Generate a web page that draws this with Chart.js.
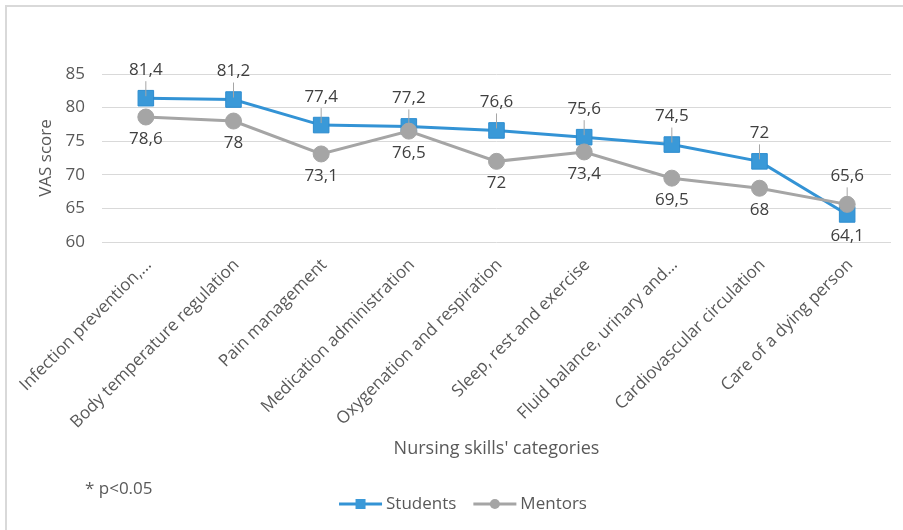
<!DOCTYPE html>
<html>
<head>
<meta charset="utf-8">
<script src="https://cdn.jsdelivr.net/npm/chart.js@4.4.1/dist/chart.umd.min.js"></script>
<style>
  html, body { margin: 0; padding: 0; background: #fff; }
  #wrap { width: 903px; height: 530px; }
</style>
</head>
<body>
<div id="wrap"><canvas id="vasChart" width="903" height="530"></canvas></div>
<script>
const categories = [
    'Infection prevention,...',
    'Body temperature regulation',
    'Pain management',
    'Medication administration',
    'Oxygenation and respiration',
    'Sleep, rest and exercise',
    'Fluid balance, urinary and...',
    'Cardiovascular circulation',
    'Care of a dying person'
];
const studentScores = [81.4, 81.2, 77.4, 77.2, 76.6, 75.6, 74.5, 72, 64.1];
const mentorScores = [78.6, 78, 73.1, 76.5, 72, 73.4, 69.5, 68, 65.6];

const yMin = 60;
const yMax = 85;
const yStep = 5;

// which side of the marker each value label sits on
const studentLabelSide = ['up', 'up', 'up', 'up', 'up', 'up', 'up', 'up', 'down'];
const mentorLabelSide = ['down', 'down', 'down', 'down', 'down', 'down', 'down', 'down', 'up'];

const FONT = '"Open Sans", "DejaVu Sans", sans-serif';
const BLUE = '#3393d5';
const GREY = '#a5a5a5';

const fmt = v => String(v).replace('.', ',');

const frame = {
    id: 'frame',
    beforeDraw(chart) {
        const ctx = chart.ctx;
        ctx.save();
        ctx.fillStyle = '#fff';
        ctx.fillRect(0, 0, chart.width, chart.height);
        ctx.fillStyle = '#d9d9d9';
        ctx.fillRect(5, 5, chart.width - 5, 2);
        ctx.fillRect(5, 5, 2, chart.height - 5);
        ctx.restore();
    }
};

const valueLabels = {
    id: 'valueLabels',
    afterDatasetsDraw(chart) {
        const ctx = chart.ctx;
        ctx.save();
        ctx.font = '17px ' + FONT;
        ctx.textAlign = 'center';
        ctx.textBaseline = 'middle';
        chart.data.datasets.forEach((ds, i) => {
            const meta = chart.getDatasetMeta(i);
            meta.data.forEach((pt, j) => {
                const side = ds.labelSide[j];
                if (side === 'up') {
                    ctx.strokeStyle = '#a6a6a6';
                    ctx.lineWidth = 1;
                    ctx.beginPath();
                    ctx.moveTo(pt.x, pt.y - 17);
                    ctx.lineTo(pt.x, pt.y - 2);
                    ctx.stroke();
                    ctx.fillStyle = '#404040';
                    ctx.fillText(fmt(ds.data[j]), pt.x, pt.y - 28);
                } else {
                    ctx.fillStyle = '#404040';
                    ctx.fillText(fmt(ds.data[j]), pt.x, pt.y + 22);
                }
            });
        });
        ctx.restore();
    }
};

const footer = {
    id: 'footer',
    afterDraw(chart) {
        const ctx = chart.ctx;
        ctx.save();
        ctx.font = '17px ' + FONT;
        ctx.fillStyle = '#595959';
        ctx.textBaseline = 'middle';
        ctx.textAlign = 'left';
        ctx.fillText('* p<0.05', 85, 489);

        // legend: line with marker, then the series name
        const y = 504;
        const lineLen = 43;
        const items = chart.data.datasets.map(ds => ({
            ds, w: lineLen + 4 + ctx.measureText(ds.label).width
        }));
        const gap = 17;
        const total = items.reduce((s, it) => s + it.w, 0) + gap * (items.length - 1);
        let x = 463 - total / 2;
        items.forEach(({ ds }) => {
            ctx.strokeStyle = ds.borderColor;
            ctx.lineWidth = 3;
            ctx.beginPath();
            ctx.moveTo(x, y);
            ctx.lineTo(x + lineLen, y);
            ctx.stroke();
            ctx.fillStyle = ds.pointBackgroundColor;
            const cx = x + lineLen / 2;
            if (ds.pointStyle === 'rect') {
                ctx.fillRect(cx - 5, y - 5, 10, 10);
            } else {
                ctx.beginPath();
                ctx.arc(cx, y, 5, 0, Math.PI * 2);
                ctx.fill();
            }
            ctx.fillStyle = '#595959';
            ctx.fillText(ds.label, x + lineLen + 4, y);
            x += lineLen + 4 + ctx.measureText(ds.label).width + gap;
        });
        ctx.restore();
    }
};

const ctx = document.getElementById('vasChart').getContext('2d');

const chart = new Chart(ctx, {
    type: 'line',
    data: {
        labels: categories,
        datasets: [
            {
                label: 'Students',
                data: studentScores,
                labelSide: studentLabelSide,
                borderColor: BLUE,
                borderWidth: 3,
                pointStyle: 'rect',
                pointRadius: 11,
                pointBackgroundColor: '#3a99d8',
                pointBorderColor: '#2d8ccf',
                pointBorderWidth: 1,
                tension: 0,
                order: 1
            },
            {
                label: 'Mentors',
                data: mentorScores,
                labelSide: mentorLabelSide,
                borderColor: GREY,
                borderWidth: 3,
                pointStyle: 'circle',
                pointRadius: 8,
                pointBackgroundColor: GREY,
                pointBorderColor: GREY,
                pointBorderWidth: 1,
                tension: 0,
                order: 0
            }
        ]
    },
    options: {
        responsive: false,
        animation: false,
        devicePixelRatio: 1,
        layout: { padding: { top: 74, right: 12, left: 0, bottom: 0 } },
        plugins: {
            legend: { display: false },
            tooltip: { enabled: false }
        },
        scales: {
            x: {
                offset: true,
                grid: { display: false },
                border: { display: false },
                ticks: {
                    autoSkip: false,
                    maxRotation: 45,
                    minRotation: 45,
                    padding: 5,
                    labelOffset: 3,
                    color: '#595959',
                    font: { family: FONT, size: 17 }
                },
                title: {
                    display: true,
                    text: "Nursing skills' categories",
                    color: '#595959',
                    font: { family: FONT, size: 18 },
                    padding: { top: 4, bottom: 70 }
                },
                afterFit(scale) { scale.height = 288; }
            },
            y: {
                min: yMin,
                max: yMax,
                grid: { color: '#d9d9d9', lineWidth: 1, drawTicks: false },
                border: { display: false },
                ticks: {
                    stepSize: yStep,
                    padding: 17,
                    color: '#595959',
                    font: { family: FONT, size: 17 }
                },
                title: {
                    display: true,
                    text: 'VAS score',
                    color: '#595959',
                    font: { family: FONT, size: 17 },
                    padding: { top: 36, bottom: 0 }
                },
                afterFit(scale) { scale.width = 102; }
            }
        }
    },
    plugins: [frame, valueLabels, footer]
});
</script>
</body>
</html>
